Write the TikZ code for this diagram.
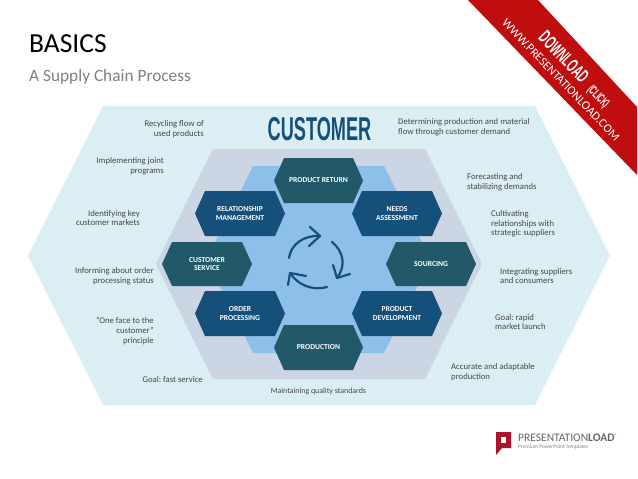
\documentclass[tikz,border=0pt]{standalone}
\usepackage{fontspec}
\setmainfont{Carlito}
\newfontfamily\narrowfont[FakeStretch=0.55]{Liberation Sans}
\usetikzlibrary{positioning}
\definecolor{outerblue}{HTML}{DAEEF3}
\definecolor{midgrey}{HTML}{CCD5E3}
\definecolor{innerblue}{HTML}{8CC0E8}
\definecolor{tealhex}{HTML}{215968}
\definecolor{navyhex}{HTML}{15507A}
\definecolor{ribbonred}{HTML}{C00D0D}
\definecolor{logored}{HTML}{A8142B}
\tikzset{
  notetext/.style={font=\fontsize{8.7}{9.7}\selectfont, text=black!72, inner sep=0pt},
  noteleft/.style={notetext, align=right, anchor=east},
  noteright/.style={notetext, align=left, anchor=west},
  hexlabel/.style={font=\fontsize{7.6}{8.6}\selectfont\bfseries, text=white, align=center, inner sep=0pt},
  cyclearrow/.style={draw=navyhex, line width=2.2pt, line cap=round, line join=round}
}
\begin{document}
\frenchspacing
\begin{tikzpicture}[x=1pt,y=-1pt]
  \useasboundingbox (0,0) rectangle (638,479);

  % Drawing title lines
  \node [anchor=west, inner sep=0pt, font=\fontsize{27.5}{28}\selectfont] (title) at (29,44) {BASICS};
  \node [anchor=west, inner sep=0pt, font=\fontsize{17.3}{18}\selectfont, text=black!50] (subtitle) at (29,77) {A Supply Chain Process};

  % Drawing the three hexagons behind everything
  \fill [outerblue] (103,106) -- (535,106) -- (610,255.5) -- (535,405) -- (103,405) -- (28,255.5) -- cycle;
  \fill [midgrey] (213,149) -- (425,149) -- (482,264) -- (425,379) -- (213,379) -- (156,264) -- cycle;
  \fill [innerblue] (253,166) -- (384,166) -- (431,260) -- (384,353) -- (253,353) -- (206,260) -- cycle;

  % Drawing heading
  \node [inner sep=0pt, text=navyhex, font=\narrowfont\fontsize{33}{33}\selectfont\bfseries] (customer) at (319.5,129.5) {CUSTOMER};

  % Drawing hexagon product return
  \fill [tealhex] (274,180.5) -- (284,158) -- (353,158) -- (363,180.5) -- (353,203) -- (284,203) -- cycle;
  \node [hexlabel] (productreturn) at (318.5,180.5) {PRODUCT RETURN};

  % Drawing hexagon relationship management
  \fill [navyhex] (195,213.5) -- (205,191) -- (275,191) -- (285,213.5) -- (275,236) -- (205,236) -- cycle;
  \node [hexlabel] (relationship) at (240,213.5) {RELATIONSHIP\\MANAGEMENT};

  % Drawing hexagon needs assessment
  \fill [navyhex] (352,213.5) -- (362,191) -- (432,191) -- (442,213.5) -- (432,236) -- (362,236) -- cycle;
  \node [hexlabel] (needs) at (397,213.5) {NEEDS\\ASSESSMENT};

  % Drawing hexagon customer service
  \fill [tealhex] (162,264) -- (172,242) -- (242,242) -- (252,264) -- (242,286) -- (172,286) -- cycle;
  \node [hexlabel] (service) at (207,264) {CUSTOMER\\SERVICE};

  % Drawing hexagon sourcing
  \fill [tealhex] (386,264) -- (396,242) -- (466,242) -- (476,264) -- (466,286) -- (396,286) -- cycle;
  \node [hexlabel] (sourcing) at (431,264) {SOURCING};

  % Drawing hexagon order processing
  \fill [navyhex] (195,313.5) -- (205,291) -- (275,291) -- (285,313.5) -- (275,336) -- (205,336) -- cycle;
  \node [hexlabel] (order) at (240,313.5) {ORDER\\PROCESSING};

  % Drawing hexagon product development
  \fill [navyhex] (352,313.5) -- (362,291) -- (432,291) -- (442,313.5) -- (432,336) -- (362,336) -- cycle;
  \node [hexlabel] (development) at (397,313.5) {PRODUCT\\DEVELOPMENT};

  % Drawing hexagon production
  \fill [tealhex] (274,347.5) -- (284,325) -- (353,325) -- (363,347.5) -- (353,370) -- (284,370) -- cycle;
  \node [hexlabel] (production) at (318.5,347.5) {PRODUCTION};

  % Drawing cycle arrows in the middle
  \draw [cyclearrow] (289,258) .. controls (291,244) and (304,235) .. (320,236);
  \draw [cyclearrow] (310,227) -- (320,236) -- (309,246);
  \draw [cyclearrow] (332,242) .. controls (344,252) and (346,266) .. (337,278);
  \draw [cyclearrow] (333,265) -- (337,278) -- (350,274);
  \draw [cyclearrow] (327,287) .. controls (312,291) and (298,285) .. (290,273);
  \draw [cyclearrow] (288,285) -- (290,273) -- (306,276);

  % Drawing notes on the left
  \node [noteleft] (recycling) at (204,129) {Recycling flow of\\used products};
  \node [noteleft] (joint) at (164,166) {Implementing joint\\programs};
  \node [noteleft] (markets) at (140,218) {Identifying key\\customer markets};
  \node [noteleft] (informing) at (154,276) {Informing about order\\processing status};
  \node [noteleft] (oneface) at (154,331) {"One face to the\\customer"\\principle};
  \node [noteleft] (fastservice) at (203,380) {Goal: fast service};

  % Drawing note below
  \node [notetext, font=\fontsize{7.9}{9}\selectfont] (quality) at (318.5,391) {Maintaining quality standards};

  % Drawing notes on the right
  \node [noteright] (determining) at (398,127) {Determining production and material\\flow through customer demand};
  \node [noteright] (forecasting) at (467,182) {Forecasting and\\stabilizing demands};
  \node [noteright] (cultivating) at (491,224) {Cultivating\\relationships with\\strategic suppliers};
  \node [noteright] (integrating) at (500,276) {Integrating suppliers\\and consumers};
  \node [noteright] (launch) at (495,322) {Goal: rapid\\market launch};
  \node [noteright] (accurate) at (451,372) {Accurate and adaptable\\production};

  % Drawing download ribbon
  \fill [ribbonred] (468,0) -- (538,0) -- (637,107) -- (637,175) -- cycle;
  \node [rotate=-46, inner sep=0pt, text=white, font=\narrowfont\fontsize{19}{19}\selectfont\bfseries] (download) at (564,57) {DOWNLOAD};
  \node [rotate=-46, inner sep=0pt, text=white, font=\narrowfont\fontsize{12.5}{13}\selectfont\bfseries] (click) at (598,97) {(CLICK)};
  \node [rotate=-46, inner sep=0pt, text=white, font=\fontsize{12.2}{12}\selectfont] (url) at (561,80) {WWW.PRESENTATIONLOAD.COM};

  % Drawing logo
  \fill [logored] (496,432) -- (511,432) -- (511,448) -- (502,448) -- (496,455) -- cycle;
  \fill [white] (501,437) rectangle (506,443);
  \node [anchor=west, inner sep=0pt, text=black!60, font=\fontsize{11.5}{12}\selectfont] (logoname) at (518,437.5) {PRESENTATION\textbf{LOAD}\textsuperscript{\tiny ®}};
  \node [anchor=west, inner sep=0pt, text=black!50, font=\fontsize{5.4}{6}\selectfont] (logotag) at (518,447.5) {Premium PowerPoint Templates};
\end{tikzpicture}
\end{document}
